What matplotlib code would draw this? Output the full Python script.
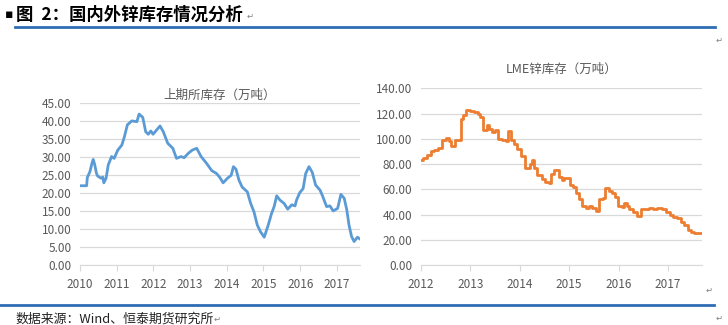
import matplotlib
matplotlib.use("Agg")
import matplotlib.pyplot as plt
from matplotlib.lines import Line2D

plt.rcParams['font.family'] = ['Noto Sans CJK SC', 'DejaVu Sans']

# SHFE zinc stocks (10k t)
shfe_t = [2010.0, 2010.18, 2010.2, 2010.27, 2010.33, 2010.36, 2010.4, 2010.45, 2010.48, 2010.57,
          2010.62, 2010.65, 2010.71, 2010.77, 2010.86, 2010.93, 2011.03, 2011.14, 2011.21, 2011.29,
          2011.41, 2011.55, 2011.61, 2011.71, 2011.79, 2011.86, 2011.93, 2011.99, 2012.18, 2012.27,
          2012.39, 2012.53, 2012.63, 2012.75, 2012.84, 2012.95, 2013.06, 2013.18, 2013.3, 2013.45,
          2013.59, 2013.72, 2013.81, 2013.9, 2014.02, 2014.12, 2014.18, 2014.25, 2014.33, 2014.42,
          2014.56, 2014.65, 2014.74, 2014.83, 2014.92, 2015.02, 2015.13, 2015.22, 2015.29, 2015.36,
          2015.45, 2015.56, 2015.66, 2015.77, 2015.86, 2015.9, 2015.99, 2016.08, 2016.15, 2016.24,
          2016.33, 2016.42, 2016.54, 2016.6, 2016.72, 2016.81, 2016.9, 2017.02, 2017.11, 2017.2,
          2017.27, 2017.33, 2017.4, 2017.47, 2017.56, 2017.63]
shfe_v = [22.1, 22.1, 24.4, 26.0, 28.5, 29.4, 28.0, 25.5, 24.8, 24.2,
          24.5, 22.9, 24.2, 27.9, 30.2, 29.7, 32.0, 33.4, 35.7, 39.0,
          40.1, 39.9, 42.0, 41.1, 37.1, 36.4, 37.3, 36.4, 38.7, 37.1,
          33.9, 32.5, 29.7, 30.2, 29.9, 31.1, 32.0, 32.5, 30.2, 28.3,
          26.3, 25.5, 24.4, 22.9, 24.2, 25.0, 27.4, 26.7, 23.7, 21.7,
          20.4, 17.2, 14.9, 11.2, 9.3, 7.8, 11.2, 14.4, 16.3, 19.3,
          18.1, 17.2, 15.6, 16.8, 16.5, 18.1, 20.2, 21.3, 25.5, 27.4,
          25.8, 22.3, 20.9, 19.5, 16.3, 16.5, 15.1, 15.8, 19.7, 18.6,
          15.4, 11.2, 8.0, 6.6, 7.8, 7.3]

# LME zinc stocks (10k t)
lme_t = [2012.0, 2012.05, 2012.12, 2012.2, 2012.27, 2012.35, 2012.44, 2012.52, 2012.57, 2012.62,
         2012.69, 2012.81, 2012.86, 2012.92, 2013.0, 2013.07, 2013.15, 2013.2, 2013.26, 2013.33,
         2013.38, 2013.44, 2013.5, 2013.57, 2013.65, 2013.72, 2013.77, 2013.82, 2013.88, 2013.95,
         2014.02, 2014.1, 2014.2, 2014.25, 2014.3, 2014.36, 2014.46, 2014.52, 2014.6, 2014.63,
         2014.7, 2014.79, 2014.85, 2014.9, 2015.02, 2015.08, 2015.13, 2015.2, 2015.27, 2015.34,
         2015.41, 2015.47, 2015.55, 2015.6, 2015.69, 2015.73, 2015.8, 2015.86, 2015.92, 2015.98,
         2016.06, 2016.11, 2016.16, 2016.22, 2016.3, 2016.37, 2016.46, 2016.55, 2016.62, 2016.7,
         2016.78, 2016.88, 2016.96, 2017.03, 2017.1, 2017.18, 2017.26, 2017.33, 2017.4, 2017.46,
         2017.52, 2017.6, 2017.66]
lme_v = [83, 85, 87, 90, 91, 93, 99, 101, 98, 94,
         99, 116, 119, 123, 122, 121, 120, 117, 107, 111,
         108, 105, 107, 100, 99, 98, 106, 99, 96, 92,
         86, 77, 80, 83, 77, 71, 68, 66, 65, 72,
         75, 70, 67, 69, 63, 62, 57, 52, 47, 45,
         47, 45, 43, 52, 53, 61, 59, 57, 54, 47,
         46, 49, 47, 44, 42, 39, 44, 44, 45, 44,
         45, 44, 42, 40, 38, 37, 34, 32, 28, 26,
         25, 25, 25]

shfe_years = [2010, 2011, 2012, 2013, 2014, 2015, 2016, 2017]
lme_years = [2012, 2013, 2014, 2015, 2016, 2017]
shfe_yticks = [0, 5, 10, 15, 20, 25, 30, 35, 40, 45]
lme_yticks = [0, 20, 40, 60, 80, 100, 120, 140]

grid_c = '#d9d9d9'
txt_c = '#595959'

fig = plt.figure(figsize=(7.28, 3.25), dpi=100)


def style(ax, xticks, yticks, xlim):
    ax.set_xlim(*xlim)
    ax.set_ylim(yticks[0], yticks[-1])
    ax.set_yticks(yticks)
    ax.set_yticklabels(['%.2f' % v for v in yticks])
    ax.set_xticks(xticks)
    ax.set_xticklabels([str(y) for y in xticks])
    ax.grid(axis='y', color=grid_c, lw=0.9)
    ax.set_axisbelow(True)
    for s in ['top', 'right', 'left']:
        ax.spines[s].set_visible(False)
    ax.spines['bottom'].set_color(grid_c)
    ax.tick_params(axis='y', length=0, labelsize=8.5, labelcolor=txt_c, pad=6)
    ax.tick_params(axis='x', length=4, color=grid_c, labelsize=8.5, labelcolor=txt_c, pad=5)


ax1 = fig.add_axes([0.1099, 0.1837, 0.3846, 0.4985])
ax1.plot(shfe_t, shfe_v, color='#5b9bd5', lw=2.0)
style(ax1, shfe_years, shfe_yticks, (2010.0, 2017.63))
ax1.set_title('上期所库存（万吨）', fontsize=9, color=txt_c, pad=3.5)

ax2 = fig.add_axes([0.5779, 0.1846, 0.386, 0.5437])
ax2.step(lme_t, lme_v, where='post', color='#ed7d31', lw=2.0)
style(ax2, lme_years, lme_yticks, (2012.0, 2017.68))
ax2.set_title('LME锌库存（万吨）', fontsize=9, color=txt_c, pad=11)

# header, rules and footer
fig.text(5 / 728, 1 - 15 / 325, '▪', fontsize=9, va='center', ha='left', color='black',
         family='DejaVu Sans')
fig.text(16 / 728, 1 - 15 / 325, '图  2：国内外锌库存情况分析', fontsize=12.5, fontweight='bold',
         va='center', ha='left')
fig.text(247 / 728, 1 - 16 / 325, '↵', fontsize=6, color='#808080', va='center', ha='left')
fig.add_artist(Line2D([15 / 728, 715 / 728], [1 - 27 / 325] * 2, color='#2e6db4', lw=2.0))
fig.add_artist(Line2D([0, 714 / 728], [1 - 305 / 325] * 2, color='#2e6db4', lw=2.0))
fig.text(15 / 728, 1 - 319 / 325, '数据来源：Wind、恒泰期货研究所', fontsize=9.3, va='center',
         ha='left', color='#222222')
fig.text(214 / 728, 1 - 319 / 325, '↵', fontsize=6, color='#808080', va='center', ha='left')
for x, y in [(719, 40), (709, 290), (719, 318)]:
    fig.text(x / 728, 1 - y / 325, '↵', fontsize=6, color='#808080', va='center', ha='center')

fig.savefig('out.png', dpi=100)
